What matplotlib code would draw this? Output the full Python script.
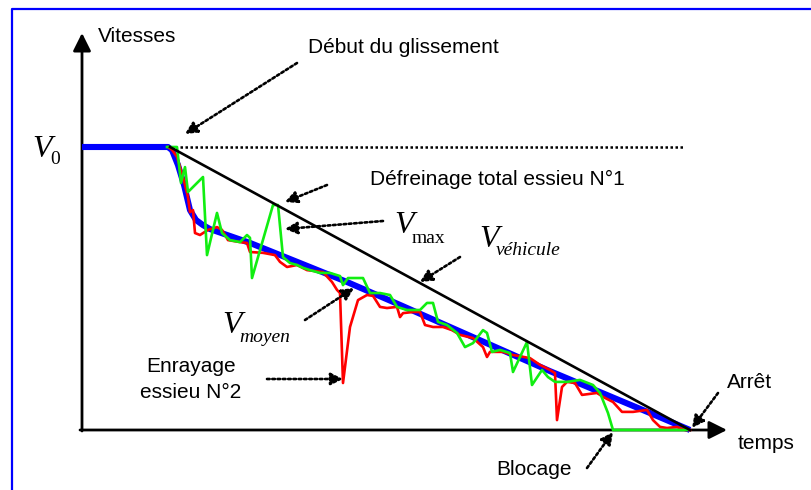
import matplotlib
matplotlib.use("Agg")
import matplotlib.pyplot as plt
from matplotlib.lines import Line2D

# ---------------- data : time (s) / speed (% of V0) ----------------
t_moyen = [0, 0.86, 0.90, 0.96, 1.02, 1.08, 1.14, 1.21, 1.28, 1.68, 2.18, 2.65,
           3.18, 3.68, 4.18, 4.68, 5.18, 5.68, 6.08]
v_moyen = [100, 100, 98.9, 93.6, 86.6, 77.7, 74.2, 72.4, 71.0, 66.1, 59.0, 52.3,
           44.2, 36.4, 28.6, 20.8, 13.4, 6.0, 0]

t_essieu2 = [0.86, 0.90, 0.95, 1.01, 1.06, 1.08, 1.11, 1.13, 1.18, 1.26, 1.35, 1.40,
             1.46, 1.58, 1.65, 1.68, 1.81, 1.93, 1.98, 2.05, 2.15, 2.25, 2.41, 2.50,
             2.55, 2.58, 2.61, 2.68, 2.76, 2.85, 2.91, 2.98, 3.05, 3.15, 3.18, 3.21,
             3.31, 3.38, 3.43, 3.51, 3.61, 3.70, 3.78, 3.91, 4.01, 4.05, 4.08, 4.21,
             4.31, 4.48, 4.58, 4.68, 4.73, 4.75, 4.80, 4.85, 4.93, 5.00, 5.15, 5.21,
             5.31, 5.40, 5.51, 5.65, 5.71, 5.78, 5.85, 5.95, 6.03, 6.08]
v_essieu2 = [100, 99.0, 96.5, 89.4, 82.3, 77.0, 77.7, 69.6, 68.9, 70.7, 71.7, 70.7,
             67.1, 66.4, 66.1, 62.9, 62.6, 61.8, 59.4, 57.6, 58.3, 56.5, 55.8, 52.3,
             49.5, 48.4, 16.6, 36.4, 45.9, 47.7, 47.4, 43.5, 43.1, 43.5, 39.9, 41.3,
             41.7, 41.7, 37.1, 36.4, 36.4, 35.3, 33.6, 32.5, 29.3, 25.8, 27.6, 27.6,
             26.5, 25.4, 23.0, 21.2, 20.1, 3.5, 15.2, 17.0, 16.6, 12.4, 13.1, 11.7,
             9.9, 6.4, 6.4, 7.1, 3.5, 1.1, 0.7, 1.1, 0, 0]

t_essieu1 = [0.85, 0.95, 0.99, 1.03, 1.06, 1.21, 1.25, 1.35, 1.40, 1.48, 1.58, 1.65,
             1.68, 1.70, 1.91, 1.96, 2.01, 2.08, 2.15, 2.21, 2.28, 2.38, 2.48, 2.58,
             2.61, 2.66, 2.81, 2.88, 2.98, 3.08, 3.15, 3.25, 3.38, 3.45, 3.51, 3.56,
             3.65, 3.75, 3.83, 3.91, 4.01, 4.05, 4.10, 4.18, 4.28, 4.31, 4.45, 4.50,
             4.60, 4.66, 4.73, 4.85, 4.98, 5.11, 5.18, 5.26, 5.31, 6.05]
v_essieu1 = [100, 100, 87.3, 92.9, 84.1, 89.4, 61.8, 76.7, 69.6, 67.1, 66.4, 68.9,
             67.9, 53.7, 79.5, 79.5, 61.1, 59.0, 58.3, 57.3, 56.5, 55.5, 55.5, 54.4,
             51.2, 53.7, 53.7, 48.4, 48.4, 47.7, 43.5, 42.4, 42.4, 44.9, 44.9, 38.2,
             37.1, 34.3, 29.3, 30.7, 35.3, 34.3, 27.6, 28.3, 27.2, 20.5, 31.1, 15.9,
             21.2, 18.7, 17.0, 17.0, 17.7, 15.9, 13.1, 6.0, 0, 0]

t_vehicule = [0.88, 6.08]
v_vehicule = [100, 0]

t_v0_ref = [0.98, 6.01]
v_v0_ref = [100, 100]

# ---------------- figure ----------------
fig = plt.figure(figsize=(8.11, 4.90), dpi=100)
ax = fig.add_axes([0, 0, 1, 1])
ax.set_xlim(-0.82, 7.29)
ax.set_ylim((430 - 490) / 2.83, 430 / 2.83)
ax.axis("off")


def P(x, y):
    """pixel position of the reference -> data coordinates (layout helper)"""
    return ((x - 82) / 100.0, (430 - y) / 2.83)


# blue frame (top + left)
fig.add_artist(Line2D([12 / 811, 12 / 811, 1.0], [0, 1 - 9.5 / 490, 1 - 9.5 / 490],
                      transform=fig.transFigure, color="#0000ff", lw=1.6))

# axes with arrows
ax_kw = dict(arrowstyle="-|>,head_length=0.6,head_width=0.3", color="black",
             lw=2.0, mutation_scale=18, shrinkA=0, shrinkB=0)
ax.annotate("", xy=P(82, 33), xytext=P(82, 431), arrowprops=ax_kw, zorder=2)
ax.annotate("", xy=P(727, 430), xytext=P(80, 430), arrowprops=ax_kw, zorder=2)

# curves
ax.plot(t_v0_ref, v_v0_ref, color="black", lw=1.8, ls=(0, (1, 1.0)), zorder=3)
ax.plot(t_moyen, v_moyen, color="#0000ff", lw=4.4, solid_capstyle="butt",
        solid_joinstyle="round", zorder=4)
ax.plot(t_essieu2, v_essieu2, color="#ff0000", lw=1.9, solid_joinstyle="round",
        zorder=5)
ax.plot(t_essieu1, v_essieu1, color="#11ee11", lw=1.9, solid_joinstyle="round",
        zorder=6)
ax.plot(t_vehicule, v_vehicule, color="black", lw=1.9, zorder=7)

# dotted annotation arrows
arr_kw = dict(arrowstyle="-|>,head_length=0.4,head_width=0.2", color="black",
              lw=1.9, ls=(0, (1, 1.0)), mutation_scale=18, shrinkA=0, shrinkB=0)
arrows = [((297, 63), (185, 134)),   # début du glissement
          ((327, 185), (285, 202)),  # défreinage
          ((383, 221), (285, 229)),  # V max
          ((460, 257), (420, 282)),  # V véhicule
          ((305, 320), (354, 288)),  # V moyen
          ((267, 379), (343, 379)),  # enrayage
          ((718, 393), (692, 428)),  # arrêt
          ((587, 468), (613, 432))]  # blocage
for start, tip in arrows:
    ax.annotate("", xy=P(*tip), xytext=P(*start), arrowprops=arr_kw, zorder=8)

# texts
sans = dict(family="Liberation Sans", fontsize=15, va="baseline", color="black")
ax.text(*P(98, 42), "Vitesses", ha="left", **sans)
ax.text(*P(308, 53), "Début du glissement", ha="left", **sans)
ax.text(*P(370, 185), "Défreinage total essieu N°1", ha="left", **sans)
ax.text(*P(191, 372), "Enrayage", ha="center", **sans)
ax.text(*P(191, 398), "essieu N°2", ha="center", **sans)
ax.text(*P(727, 388), "Arrêt", ha="left", **sans)
ax.text(*P(738, 449), "temps", ha="left", **sans)
ax.text(*P(496, 475), "Blocage", ha="left", **sans)

serif_v = dict(family="Liberation Serif", style="italic", fontsize=23,
               va="baseline", ha="left", color="black")
sub_r = dict(family="Liberation Serif", style="normal", fontsize=14,
             va="baseline", ha="left", color="black")
sub_i = dict(family="Liberation Serif", style="italic", fontsize=14,
             va="baseline", ha="left", color="black")

ax.text(*P(32, 157), "V", **serif_v)
ax.text(*P(50, 164), "0", **sub_r)
ax.text(*P(394, 233), "V", **serif_v)
ax.text(*P(412, 243), "max", **sub_r)
ax.text(*P(479, 247), "V", **serif_v)
ax.text(*P(496, 255), "véhicule", **sub_i)
ax.text(*P(222, 333), "V", **serif_v)
ax.text(*P(239, 342), "moyen", **sub_i)

fig.savefig("out.png", dpi=100)
